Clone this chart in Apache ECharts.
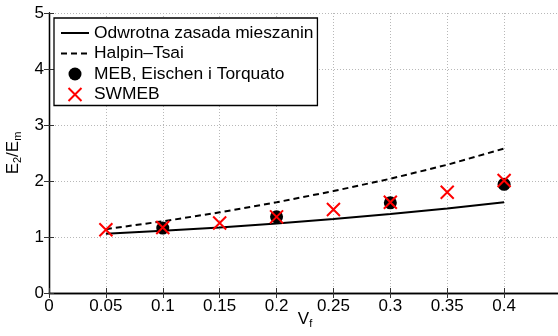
<!DOCTYPE html>
<html>
<head>
<meta charset="utf-8">
<script src="https://cdn.jsdelivr.net/npm/echarts@6/dist/echarts.min.js"></script>
<style>
  html, body { margin: 0; padding: 0; background: #fff; }
  #chart { width: 558px; height: 336px; }
</style>
</head>
<body>
<div id="chart"></div>
<script>
// Fibre volume fraction and normalised transverse modulus E2/Em
const vf = [0.05, 0.1, 0.15, 0.2, 0.25, 0.3, 0.35, 0.4];
const odwrotnaZasada = [1.06, 1.11, 1.17, 1.24, 1.32, 1.41, 1.51, 1.62];
const halpinTsai = [1.14, 1.28, 1.44, 1.62, 1.82, 2.04, 2.29, 2.58];
const mebVf = [0.1, 0.2, 0.3, 0.4];
const meb = [1.16, 1.36, 1.61, 1.94];
const swmeb = [1.13, 1.17, 1.25, 1.36, 1.49, 1.62, 1.80, 2.01];

const xTickLabels = ['0', '0.05', '0.1', '0.15', '0.2', '0.25', '0.3', '0.35', '0.4', ''];
const yTickLabels = ['0', '1', '2', '3', '4', '5'];

const pairs = (xs, ys) => xs.map((x, i) => [x, ys[i]]);
const FONT = 'Liberation Sans, Arial, Helvetica, sans-serif';
const gridLine = { show: true, lineStyle: { color: '#b8b8b8', width: 1, type: [1, 2] } };
const axisLine = { show: true, lineStyle: { color: '#000', width: 1.3 } };
const tick = { show: true, inside: true, length: 5, lineStyle: { color: '#333', width: 1 } };
const subRich = {
  n: { fontSize: 17, color: '#000', fontFamily: FONT, lineHeight: 20 },
  s: { fontSize: 11, color: '#000', fontFamily: FONT, verticalAlign: 'bottom', lineHeight: 12, padding: [11, 0, 0, 0] }
};

const chart = echarts.init(document.getElementById('chart'), null, { renderer: 'canvas' });
chart.setOption({
  animation: false,
  backgroundColor: '#fff',
  textStyle: { fontFamily: FONT },
  grid: { left: 49, right: -3, top: 13, bottom: 43, containLabel: false, outerBoundsMode: 'none' },
  xAxis: [{
    type: 'value', min: 0, max: 0.45, interval: 0.05,
    axisLine, axisTick: tick, splitLine: gridLine,
    axisLabel: {
      color: '#000', fontSize: 17, fontFamily: FONT, margin: 5,
      formatter: v => xTickLabels[Math.round(v / 0.05)] ?? ''
    },
    name: '{n|V}{s|f}', nameLocation: 'middle', nameGap: 16, nameMoveOverlap: false,
    nameTextStyle: { rich: subRich }
  }, {
    type: 'value', position: 'top', min: 0, max: 0.45, interval: 0.05,
    axisLine, axisTick: tick, axisLabel: { show: false }, splitLine: { show: false }
  }],
  yAxis: [{
    type: 'value', min: 0, max: 5, interval: 1,
    axisLine, axisTick: tick, splitLine: gridLine,
    axisLabel: {
      color: '#000', fontSize: 17, fontFamily: FONT, margin: 5,
      formatter: v => yTickLabels[Math.round(v)]
    },
    name: '{n|E}{s|2}{n|/E}{s|m}', nameLocation: 'middle', nameGap: 26, nameRotate: 90, nameMoveOverlap: false,
    nameTextStyle: { rich: subRich }
  }, {
    type: 'value', position: 'right', min: 0, max: 5, interval: 1,
    axisLine, axisTick: tick, axisLabel: { show: false }, splitLine: { show: false }
  }],
  legend: {
    orient: 'vertical', left: 54, top: 18,
    padding: [5, 4, 1, 6],
    itemWidth: 28, itemHeight: 13, itemGap: 0.5,
    backgroundColor: '#fff', borderColor: '#000', borderWidth: 1.3,
    textStyle: { color: '#000', fontSize: 17.4, fontFamily: FONT, lineHeight: 20 },
    data: [
      { name: 'Odwrotna zasada mieszanin', itemStyle: { opacity: 0 } },
      { name: 'Halpin\u2013Tsai', itemStyle: { opacity: 0 } },
      { name: 'MEB, Eischen i Torquato' },
      { name: 'SWMEB' }
    ]
  },
  series: [{
    name: 'Odwrotna zasada mieszanin', type: 'line', symbol: 'none',
    data: pairs(vf, odwrotnaZasada),
    lineStyle: { color: '#000', width: 2 }, itemStyle: { color: '#000' }, z: 2
  }, {
    name: 'Halpin\u2013Tsai', type: 'line', symbol: 'none',
    data: pairs(vf, halpinTsai),
    lineStyle: { color: '#000', width: 2, type: [6, 4] }, itemStyle: { color: '#000' }, z: 2
  }, {
    name: 'MEB, Eischen i Torquato', type: 'scatter', symbol: 'circle', symbolSize: 13,
    data: pairs(mebVf, meb),
    itemStyle: { color: '#000', opacity: 1 }, z: 3
  }, {
    name: 'SWMEB', type: 'scatter',
    symbol: 'path://M0,0L10,10M10,0L0,10', symbolSize: 13, symbolKeepAspect: true,
    data: pairs(vf, swmeb),
    itemStyle: { color: 'none', borderColor: '#ff0000', borderWidth: 2, opacity: 1 }, z: 4
  }]
});
</script>
</body>
</html>
